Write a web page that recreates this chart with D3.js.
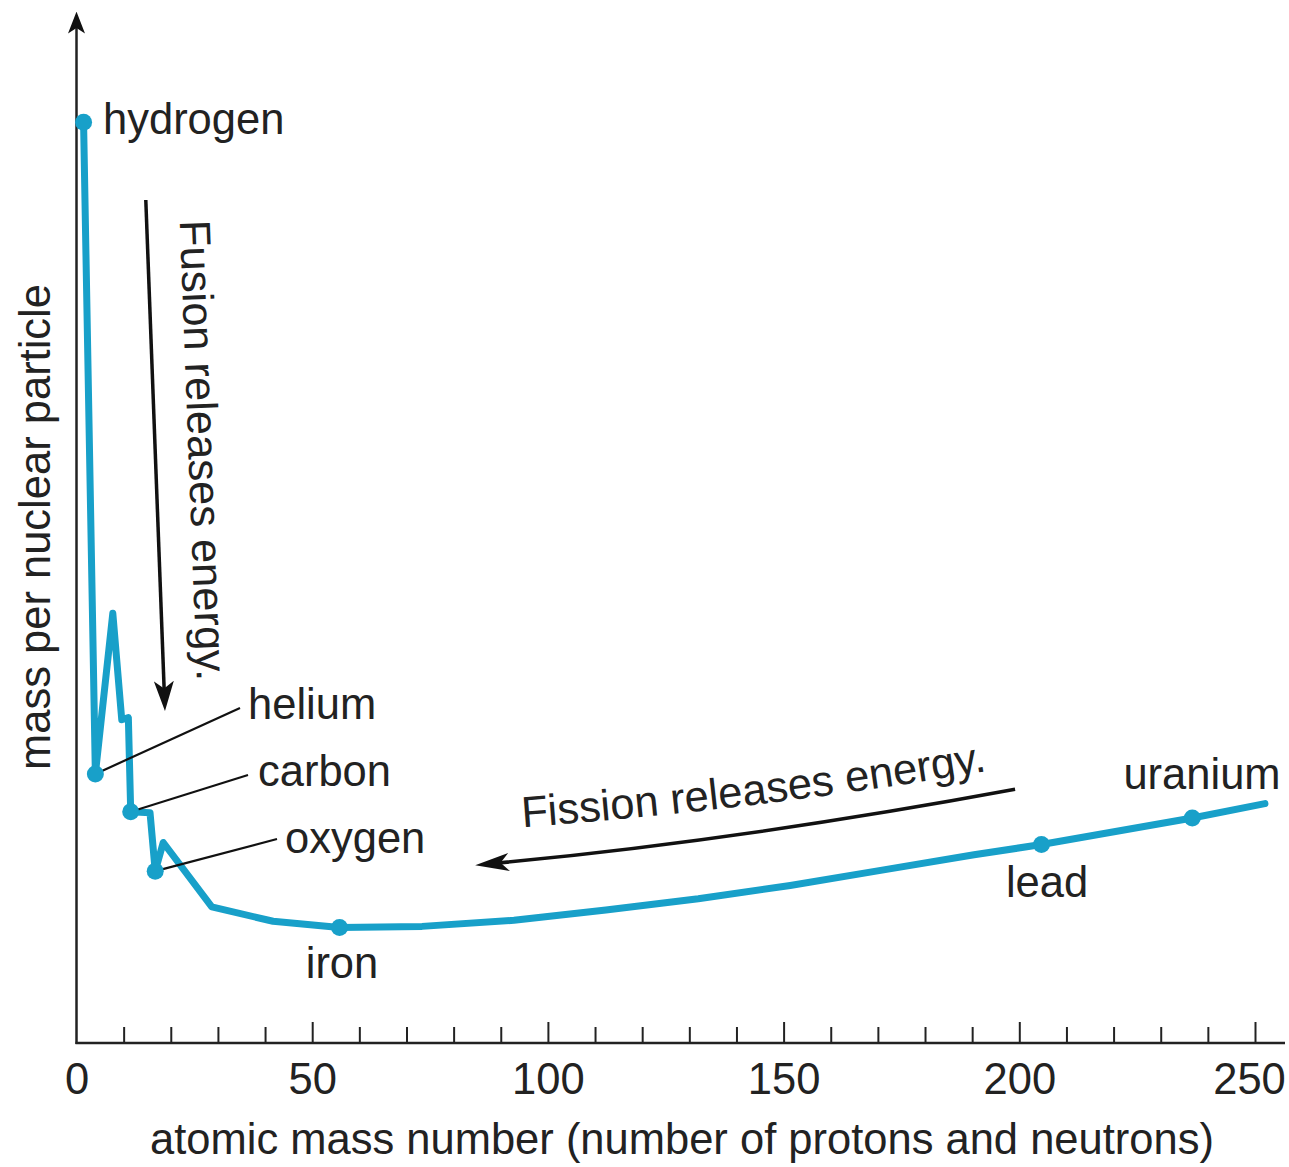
<!DOCTYPE html>
<html>
<head>
<meta charset="utf-8">
<script src="https://cdn.jsdelivr.net/npm/d3@7"></script>
<style>
  body { margin: 0; background: #fff; }
  text { font-family: "Liberation Sans", Arial, sans-serif; fill: #222; }
</style>
</head>
<body>
<div id="chart"></div>
<script>
// curve (arbitrary mass units)
const massNumber = [1.5, 4, 7.7, 9.6, 11, 11.5, 15.6, 16.7, 18.4, 28.7, 41.7, 55.8, 73.3, 92.8, 112.3, 131.9, 151.4, 170.9, 190.4, 204.7, 236.7, 252.1];
const massPerParticle = [90.0, 26.3, 42.0, 31.6, 31.8, 22.6, 22.5, 16.8, 19.6, 13.3, 11.9, 11.3, 11.4, 12.0, 13.0, 14.1, 15.4, 16.9, 18.4, 19.4, 22.0, 23.4];

// labelled elements
const elementNames = ["hydrogen", "helium", "carbon", "oxygen", "iron", "lead", "uranium"];
const elementMass = [1.5, 4, 11.5, 16.7, 55.8, 204.7, 236.7];
const elementValue = [90.0, 26.3, 22.6, 16.8, 11.3, 19.4, 22.0];

const majorTicks = [0, 50, 100, 150, 200, 250];
const minorTicks = d3.range(10, 250, 10).filter((d) => d % 50 != 0);

const width = 1289;
const height = 1167;
const margin = { top: 20, right: 35, bottom: 124, left: 76.5 };
const blue = "#18a0c9";
const fontSize = 43.5;

const x = d3.scaleLinear().domain([0, 250]).range([margin.left, 1255]);
const y = d3.scaleLinear().domain([0, 100]).range([height - margin.bottom, margin.top]);

const data = massNumber.map((a, i) => ({ a: a, v: massPerParticle[i] }));
const elements = elementNames.map((n, i) => ({ name: n, a: elementMass[i], v: elementValue[i] }));

const svg = d3.select("#chart").append("svg").attr("width", width).attr("height", height);

const defs = svg.append("defs");
function addMarker(id, w, l) {
  defs.append("marker")
    .attr("id", id)
    .attr("viewBox", `0 ${-w / 2} ${l} ${w}`)
    .attr("refX", l * 0.3)
    .attr("refY", 0)
    .attr("markerUnits", "userSpaceOnUse")
    .attr("markerWidth", l)
    .attr("markerHeight", w)
    .attr("orient", "auto")
    .append("path")
    .attr("d", `M0,${-w / 2}L${l},0L0,${w / 2}L${l * 0.25},0Z`)
    .attr("fill", "#111");
}
addMarker("axisHead", 17, 22);
addMarker("fusionHead", 20, 30);
addMarker("fissionHead", 18, 34);

const y0 = y(0);

// axes
svg.append("line")
  .attr("x1", x(0)).attr("x2", x(0))
  .attr("y1", y0 + 1).attr("y2", 27)
  .attr("stroke", "#222").attr("stroke-width", 2.5)
  .attr("marker-end", "url(#axisHead)");

svg.append("line")
  .attr("x1", x(0) - 1).attr("x2", 1285)
  .attr("y1", y0).attr("y2", y0)
  .attr("stroke", "#222").attr("stroke-width", 2.5);

function xAxis(g) {
  g.attr("transform", `translate(0, ${y0})`)
    .call(d3.axisBottom(x).tickValues(majorTicks).tickSizeInner(-21).tickSizeOuter(0).tickPadding(20))
    .call((g) => g.select(".domain").remove());
  g.selectAll(".tick line").attr("stroke", "#222").attr("stroke-width", 2);
  g.selectAll(".tick").filter((d) => d == 0).select("line").remove();
  g.selectAll(".tick text").attr("font-size", fontSize).attr("fill", "#222")
    .attr("font-family", "Liberation Sans, Arial, sans-serif");
  // last label sits a little left of its tick
  g.selectAll(".tick text").filter((d) => d == 250).attr("dx", -6);
}
function xMinor(g) {
  g.attr("transform", `translate(0, ${y0})`)
    .call(d3.axisBottom(x).tickValues(minorTicks).tickSizeInner(-16).tickSizeOuter(0).tickFormat(""))
    .call((g) => g.select(".domain").remove());
  g.selectAll(".tick line").attr("stroke", "#222").attr("stroke-width", 2);
}
svg.append("g").attr("class", "xAxis").call(xAxis);
svg.append("g").attr("class", "xMinor").call(xMinor);

svg.append("text")
  .attr("x", 682).attr("y", 1154)
  .attr("text-anchor", "middle")
  .attr("font-size", fontSize)
  .text("atomic mass number (number of protons and neutrons)");

svg.append("text")
  .attr("transform", `translate(50, 527) rotate(-90)`)
  .attr("text-anchor", "middle")
  .attr("font-size", fontSize)
  .text("mass per nuclear particle");

// fusion arrow
const fusionFrom = [14.7, 82.4], fusionTo = [18.6, 34.5];
svg.append("line")
  .attr("x1", x(fusionFrom[0])).attr("y1", y(fusionFrom[1]))
  .attr("x2", x(fusionTo[0])).attr("y2", y(fusionTo[1]))
  .attr("stroke", "#111").attr("stroke-width", 3.5)
  .attr("marker-end", "url(#fusionHead)");

const fusionAngle = Math.atan2(y(fusionTo[1]) - y(fusionFrom[1]), x(fusionTo[0]) - x(fusionFrom[0])) * 180 / Math.PI;
svg.append("text")
  .attr("transform", `translate(${x(21.9)}, ${y(80.4)}) rotate(${fusionAngle})`)
  .attr("font-size", fontSize)
  .text("Fusion releases energy.");

// fission arrow (curved)
const fissionPts = [[199.1, 24.8], [141.8, 19.9], [89.6, 17.6]];
const fp = fissionPts.map((p) => [x(p[0]), y(p[1])]);
svg.append("path")
  .attr("d", `M${fp[0][0]},${fp[0][1]}Q${fp[1][0]},${fp[1][1]} ${fp[2][0]},${fp[2][1]}`)
  .attr("fill", "none")
  .attr("stroke", "#111").attr("stroke-width", 3.5)
  .attr("marker-end", "url(#fissionHead)");

const textPts = [[94.6, 21.1], [144.9, 22.8], [196, 26.8]];
const tp = textPts.map((p) => [x(p[0]), y(p[1])]);
defs.append("path")
  .attr("id", "fissionTextPath")
  .attr("d", `M${tp[0][0]},${tp[0][1]}Q${tp[1][0]},${tp[1][1]} ${tp[2][0]},${tp[2][1]}`);
svg.append("text")
  .attr("font-size", fontSize)
  .append("textPath")
  .attr("href", "#fissionTextPath")
  .text("Fission releases energy.");

// curve
const line = d3.line().x((d) => x(d.a)).y((d) => y(d.v));
svg.append("path")
  .datum(data)
  .attr("fill", "none")
  .attr("stroke", blue)
  .attr("stroke-width", 7)
  .attr("stroke-linejoin", "round")
  .attr("stroke-linecap", "round")
  .attr("d", line);

// leader lines for the light elements
const leaders = { helium: [240, 708], carbon: [248, 775], oxygen: [277, 839] };
svg.append("g")
  .selectAll("line")
  .data(elements.filter((d) => leaders[d.name]))
  .join("line")
  .attr("x1", (d) => x(d.a)).attr("y1", (d) => y(d.v))
  .attr("x2", (d) => leaders[d.name][0]).attr("y2", (d) => leaders[d.name][1])
  .attr("stroke", "#111").attr("stroke-width", 2.2);

svg.append("g")
  .selectAll("circle")
  .data(elements)
  .join("circle")
  .attr("cx", (d) => x(d.a))
  .attr("cy", (d) => y(d.v))
  .attr("r", 8.5)
  .attr("fill", blue);

// element labels
const labelPos = {
  hydrogen: [103, 134, "start"],
  helium: [248, 719, "start"],
  carbon: [258, 786, "start"],
  oxygen: [285, 853, "start"],
  iron: [342, 978, "middle"],
  lead: [1047, 897, "middle"],
  uranium: [1202, 789, "middle"],
};
svg.append("g")
  .selectAll("text")
  .data(elements)
  .join("text")
  .attr("x", (d) => labelPos[d.name][0])
  .attr("y", (d) => labelPos[d.name][1])
  .attr("text-anchor", (d) => labelPos[d.name][2])
  .attr("font-size", fontSize)
  .text((d) => d.name);
</script>
</body>
</html>
